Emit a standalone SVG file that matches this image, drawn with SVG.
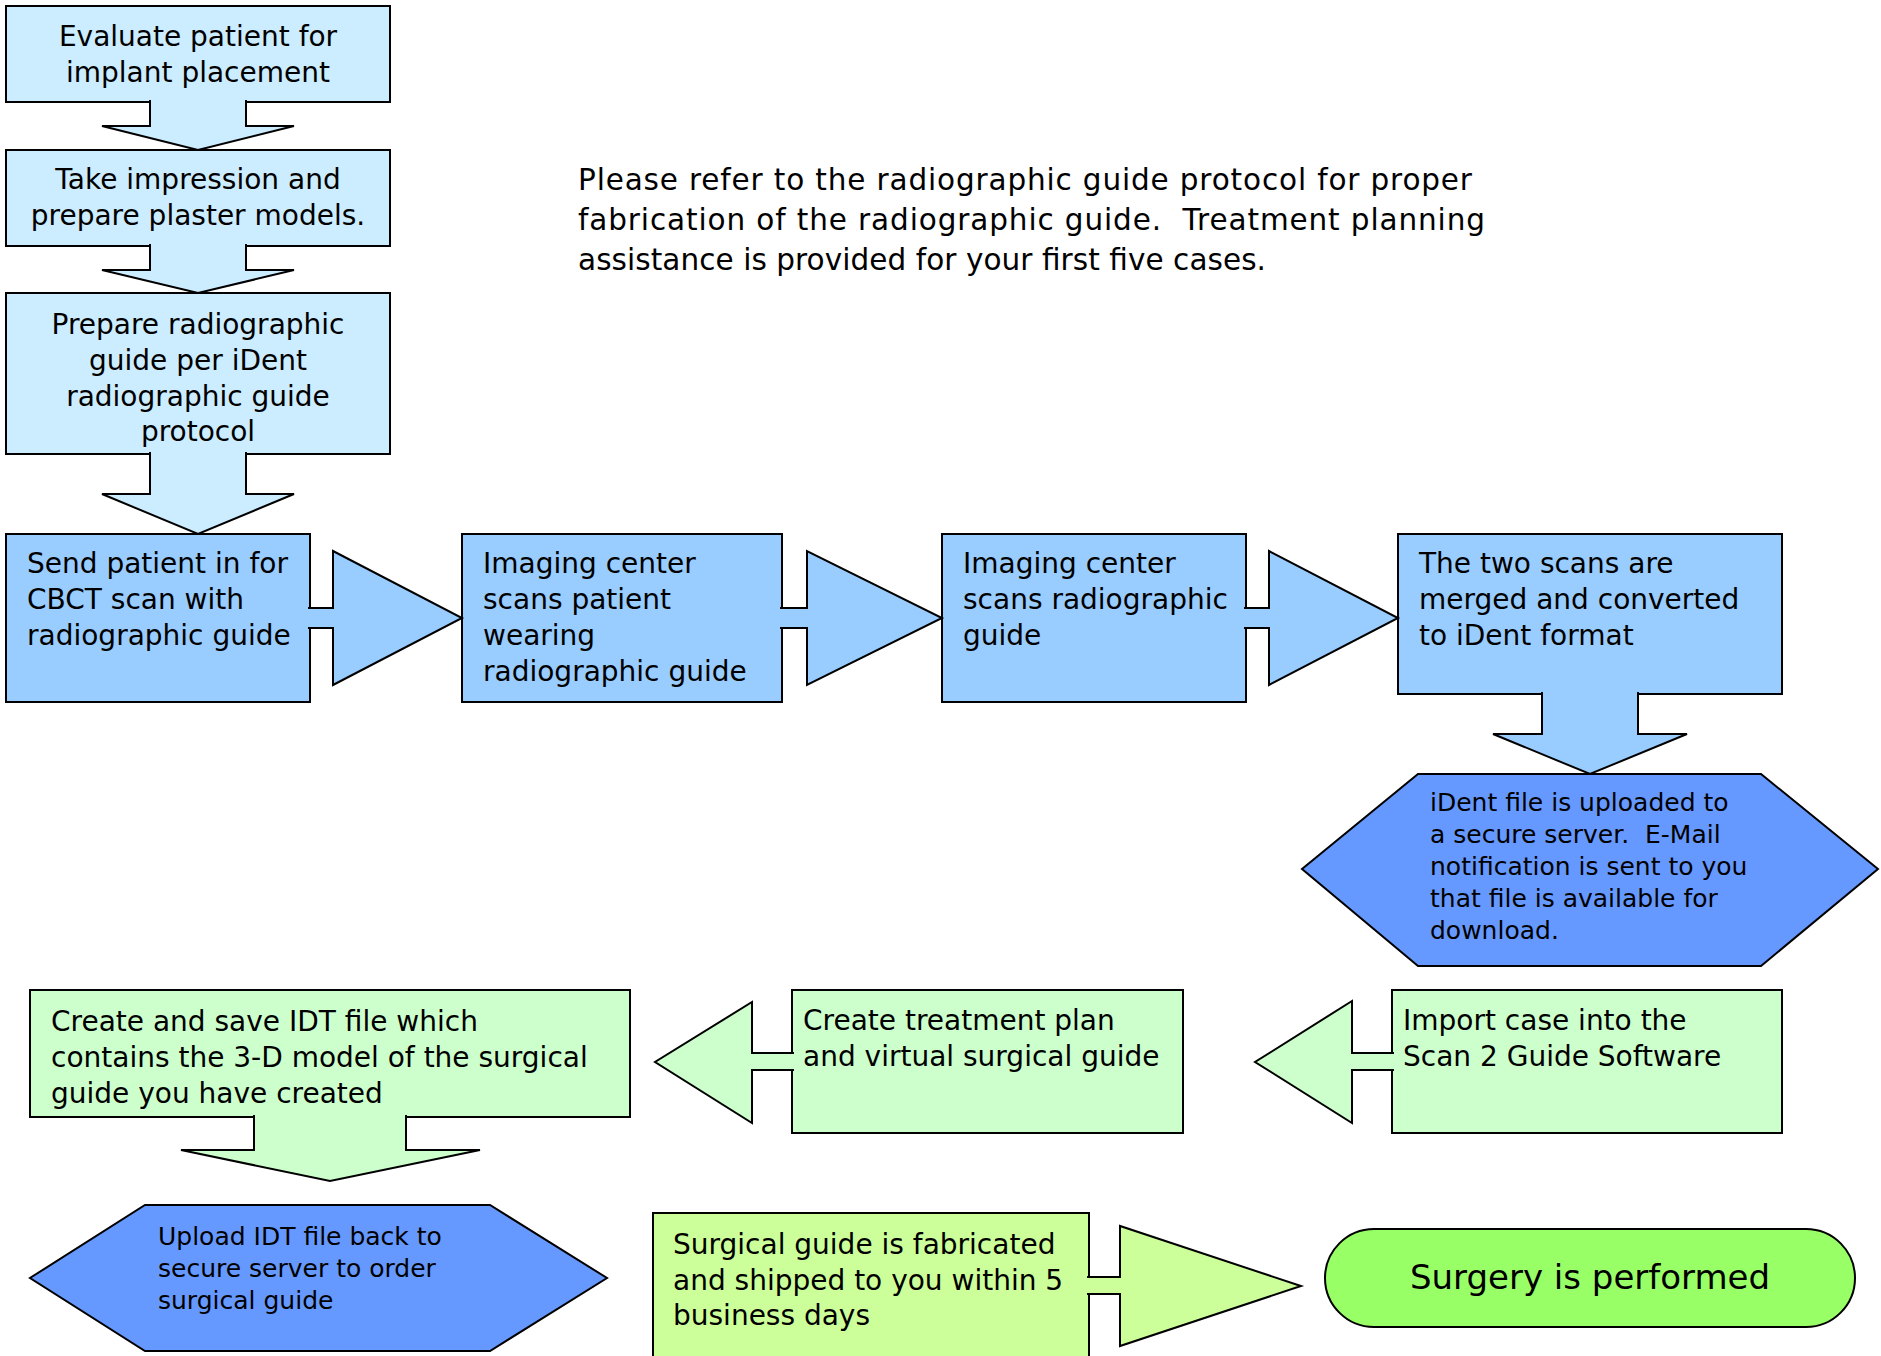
<svg xmlns="http://www.w3.org/2000/svg" width="1881" height="1356" viewBox="0 0 1881 1356">
<style>
  .n { stroke: #000; stroke-width: 2; }
  .c { stroke: #000; stroke-width: 2; stroke-linejoin: miter; }
  .lb { fill: #CCECFF; }
  .mb { fill: #99CCFF; }
  .db { fill: #6699FF; }
  .lg { fill: #CCFFCC; }
  .yg { fill: #CCFF99; }
  .bg { fill: #99FF66; }
  text { font-family: "DejaVu Sans", "Liberation Sans", sans-serif; font-size: 28px; fill: #000; white-space: pre; }
  .ctr { text-anchor: middle; }
  .sm { font-size: 25px; }
  .lg-t { font-size: 34px; }
  .nt { font-size: 29.5px; }
</style>
<rect width="1881" height="1356" fill="#fff"/>

<g id="nodes">
  <g id="n1">
    <rect class="n lb" x="6" y="6" width="384" height="96"/>
    <text class="ctr" x="198" y="46">Evaluate patient for</text>
    <text class="ctr" x="198" y="82">implant placement</text>
  </g>
  <g id="n2">
    <rect class="n lb" x="6" y="150" width="384" height="96"/>
    <text class="ctr" x="198" y="189">Take impression and</text>
    <text class="ctr" x="198" y="225">prepare plaster models.</text>
  </g>
  <g id="n3">
    <rect class="n lb" x="6" y="293" width="384" height="161"/>
    <text class="ctr" x="198" y="334">Prepare radiographic</text>
    <text class="ctr" x="198" y="370">guide per iDent</text>
    <text class="ctr" x="198" y="406">radiographic guide</text>
    <text class="ctr" x="198" y="441">protocol</text>
  </g>
  <g id="note">
    <text class="nt" x="578" y="190" textLength="894">Please refer to the radiographic guide protocol for proper</text>
    <text class="nt" x="578" y="230" textLength="907">fabrication of the radiographic guide.  Treatment planning</text>
    <text class="nt" x="578" y="270" textLength="688">assistance is provided for your first five cases.</text>
  </g>
  <g id="n4">
    <rect class="n mb" x="6" y="534" width="304" height="168"/>
    <text x="27" y="573">Send patient in for</text>
    <text x="27" y="609">CBCT scan with</text>
    <text x="27" y="645">radiographic guide</text>
  </g>
  <g id="n5">
    <rect class="n mb" x="462" y="534" width="320" height="168"/>
    <text x="483" y="573">Imaging center</text>
    <text x="483" y="609">scans patient</text>
    <text x="483" y="645">wearing</text>
    <text x="483" y="681">radiographic guide</text>
  </g>
  <g id="n6">
    <rect class="n mb" x="942" y="534" width="304" height="168"/>
    <text x="963" y="573">Imaging center</text>
    <text x="963" y="609">scans radiographic</text>
    <text x="963" y="645">guide</text>
  </g>
  <g id="n7">
    <rect class="n mb" x="1398" y="534" width="384" height="160"/>
    <text x="1419" y="573">The two scans are</text>
    <text x="1419" y="609">merged and converted</text>
    <text x="1419" y="645">to iDent format</text>
  </g>
  <g id="n8">
    <polygon class="n db" points="1418,774 1761,774 1878,869 1761,966 1418,966 1302,869"/>
    <text class="sm" x="1430" y="811">iDent file is uploaded to</text>
    <text class="sm" x="1430" y="843">a secure server.  E-Mail</text>
    <text class="sm" x="1430" y="875">notification is sent to you</text>
    <text class="sm" x="1430" y="907">that file is available for</text>
    <text class="sm" x="1430" y="939">download.</text>
  </g>
  <g id="n9">
    <rect class="n lg" x="1392" y="990" width="390" height="143"/>
    <text x="1403" y="1030">Import case into the</text>
    <text x="1403" y="1066">Scan 2 Guide Software</text>
  </g>
  <g id="n10">
    <rect class="n lg" x="792" y="990" width="391" height="143"/>
    <text x="803" y="1030">Create treatment plan</text>
    <text x="803" y="1066">and virtual surgical guide</text>
  </g>
  <g id="n11">
    <rect class="n lg" x="30" y="990" width="600" height="127"/>
    <text x="51" y="1031">Create and save IDT file which</text>
    <text x="51" y="1067">contains the 3-D model of the surgical</text>
    <text x="51" y="1103">guide you have created</text>
  </g>
  <g id="n12">
    <polygon class="n db" points="145,1205 490,1205 607,1278 490,1351 145,1351 30,1278"/>
    <text class="sm" x="158" y="1245">Upload IDT file back to</text>
    <text class="sm" x="158" y="1277">secure server to order</text>
    <text class="sm" x="158" y="1309">surgical guide</text>
  </g>
  <g id="n13">
    <rect class="n yg" x="653" y="1213" width="436" height="170"/>
    <text x="673" y="1254">Surgical guide is fabricated</text>
    <text x="673" y="1290">and shipped to you within 5</text>
    <text x="673" y="1325">business days</text>
  </g>
  <g id="n14">
    <rect class="n bg" x="1325" y="1229" width="530" height="98" rx="49" ry="49"/>
    <text class="ctr lg-t" x="1590" y="1289">Surgery is performed</text>
  </g>
</g>

<g id="connectors">
  <path class="c lb" d="M150,100 L150,126 L102,126 L198,150 L294,126 L246,126 L246,100"/>
  <path class="c lb" d="M150,244 L150,270 L102,270 L198,293 L294,270 L246,270 L246,244"/>
  <path class="c lb" d="M150,452 L150,494 L102,494 L198,534 L294,494 L246,494 L246,452"/>
  <path class="c mb" d="M308,608 L333,608 L333,551 L462,618 L333,685 L333,628 L308,628"/>
  <path class="c mb" d="M780,608 L807,608 L807,551 L942,618 L807,685 L807,628 L780,628"/>
  <path class="c mb" d="M1244,608 L1269,608 L1269,551 L1398,618 L1269,685 L1269,628 L1244,628"/>
  <path class="c mb" d="M1542,692 L1542,734 L1493,734 L1590,774 L1687,734 L1638,734 L1638,692"/>
  <path class="c lg" d="M1394,1053 L1352,1053 L1352,1001 L1255,1062 L1352,1123 L1352,1070 L1394,1070"/>
  <path class="c lg" d="M794,1053 L752,1053 L752,1002 L655,1062 L752,1123 L752,1070 L794,1070"/>
  <path class="c lg" d="M254,1115 L254,1150 L181,1150 L330,1181 L480,1150 L406,1150 L406,1115"/>
  <path class="c yg" d="M1087,1277 L1120,1277 L1120,1226 L1301,1286 L1120,1346 L1120,1294 L1087,1294"/>
</g>
</svg>
